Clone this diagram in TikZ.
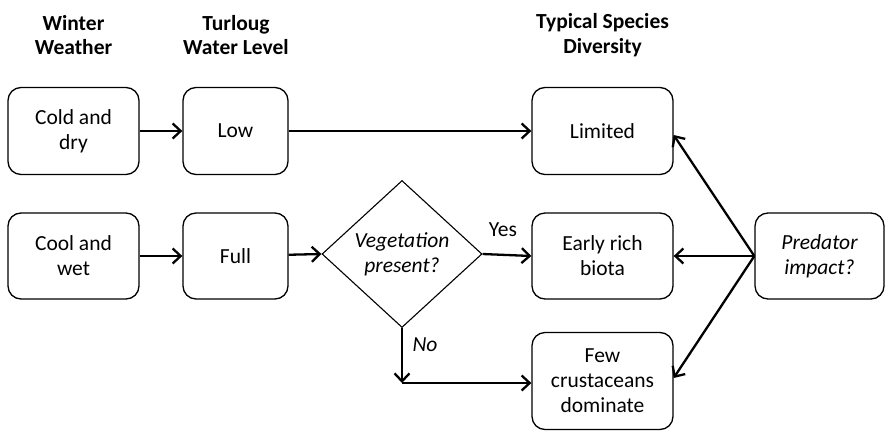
\documentclass[tikz,border=0pt]{standalone}
\usepackage{fontspec}
\setmainfont{Carlito}
\usetikzlibrary{shapes.geometric,arrows.meta}
\begin{document}
\begin{tikzpicture}[x=1pt,y=-1pt,
  box/.style={draw,line width=1.3pt,rounded corners=13pt,inner sep=0pt,align=center,font=\fontsize{21.5}{25}\selectfont},
  head/.style={align=center,font=\fontsize{21.5}{24.5}\selectfont\bfseries},
  conn/.style={line width=2.3pt,-{Straight Barb[length=8pt,width=15pt]}},
  lbl/.style={font=\fontsize{21.5}{25}\selectfont}]
\useasboundingbox (0,0) rectangle (885,431);
\node[head] (h1) at (73.5,35) {Winter\\Weather};
\node[head] (h2) at (236,35) {Turloug\\Water Level};
\node[head] (h3) at (602.5,35) {Typical Species\\Diversity};
\node[box,minimum width=131pt,minimum height=87pt] (cd) at (73.5,131) {Cold and\\dry};
\node[box,minimum width=105pt,minimum height=87pt] (low) at (235.5,131) {Low};
\node[box,minimum width=141pt,minimum height=87pt] (lim) at (602.5,131) {Limited};
\node[box,minimum width=131pt,minimum height=86pt] (cw) at (73.5,256) {Cool and\\wet};
\node[box,minimum width=105pt,minimum height=86pt] (full) at (235.5,256) {Full};
\node[draw,diamond,line width=1.1pt,inner sep=0pt,minimum width=160pt,minimum height=147pt,align=center,font=\fontsize{21.5}{25}\selectfont\itshape] (dia) at (402,254) {Vegetation\\present?};
\node[box,minimum width=141pt,minimum height=86pt] (early) at (602.5,256) {Early rich\\biota};
\node[box,minimum width=141pt,minimum height=97pt] (few) at (602.5,381) {Few\\crustaceans\\dominate};
\node[box,minimum width=129pt,minimum height=86pt,font=\fontsize{21.5}{25}\selectfont\itshape] (pred) at (819.5,256) {Predator\\impact?};
\coordinate (corner) at (402,383);
\draw[conn] (cd) -- (low);
\draw[conn] (low) -- (lim);
\draw[conn] (cw) -- (full);
\draw[conn] (full) -- (dia.west);
\draw[conn] (dia.east) -- (early.west);
\node[lbl] (yes) at (503,230) {Yes};
\draw[conn] (dia.south) -- (corner);
\draw[conn] (corner) -- (few.west |- corner);
\node[lbl,font=\fontsize{21.5}{25}\selectfont\itshape] (no) at (425,345) {No};
\draw[conn] (pred.west) -- ([yshift=-4pt]lim.east);
\draw[conn] (pred.west) -- (early.east);
\draw[conn] (pred.west) -- ([yshift=3pt]few.east);
\end{tikzpicture}
\end{document}
